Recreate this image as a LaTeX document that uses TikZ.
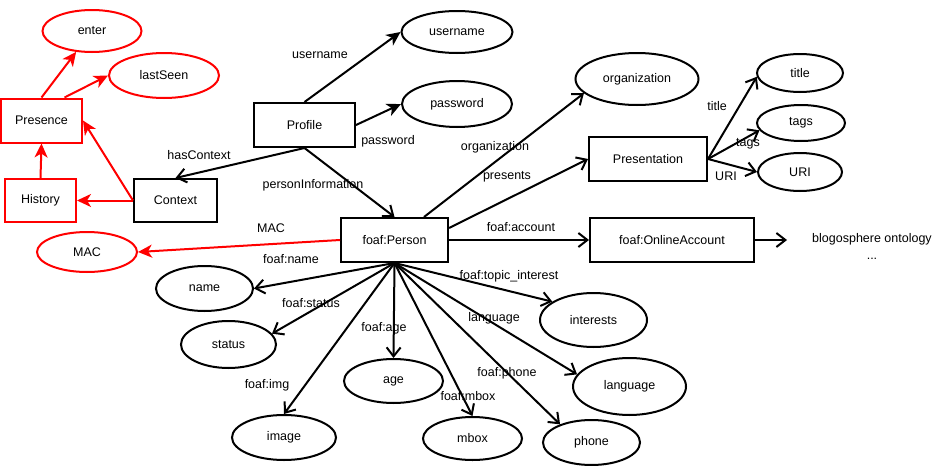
\documentclass[tikz,border=0pt]{standalone}
\usepackage{fontspec}
\setmainfont{Liberation Sans}
\usetikzlibrary{shapes.geometric, arrows.meta}

\begin{document}
\begin{tikzpicture}[
    x=1pt, y=-1pt,
    font=\fontsize{12.5}{15}\selectfont,
    entity/.style={
        rectangle, draw=black, fill=white, line width=2pt,
        minimum height=44pt, inner sep=0pt
    },
    redentity/.style={entity, draw=red},
    attr/.style={
        ellipse, draw=black, fill=white, line width=2pt,
        inner sep=0pt
    },
    redattr/.style={attr, draw=red},
    arrow/.style={line width=2pt, -{Straight Barb[length=9pt, width=14pt]}},
    solidarrow/.style={line width=2pt, -{Stealth[length=14pt, width=13pt, inset=4pt]}},
    redarrow/.style={solidarrow, color=red},
    edgelabel/.style={inner sep=0pt}
]
    \useasboundingbox (0,0) rectangle (935,466);
    % Nodes
    \node (profile) [entity, minimum width=101pt] at (304.5,125) {Profile};
    \node (person) [entity, minimum width=107pt] at (394.5,240) {foaf:Person};
    \node (context) [entity, minimum width=83pt, minimum height=43pt] at (175.5,200.5) {Context};
    \node (presentation) [entity, minimum width=118pt] at (648,159) {Presentation};
    \node (account) [entity, minimum width=164pt] at (672,240) {foaf:OnlineAccount};
    \node (presence) [redentity, minimum width=81pt] at (41.5,120.5) {Presence};
    \node (history) [redentity, minimum width=71pt, minimum height=43pt] at (40.5,200.5) {History};
    \node (enter) [redattr, minimum width=99pt, minimum height=42pt] at (92,31) {enter};
    \node (lastseen) [redattr, minimum width=110pt, minimum height=45pt] at (164,75.5) {lastSeen};
    \node (mac) [redattr, minimum width=100pt, minimum height=40pt] at (87,252) {MAC};
    \node (username) [attr, minimum width=111pt, minimum height=42pt] at (457,32) {username};
    \node (password) [attr, minimum width=110pt, minimum height=46pt] at (457,104) {password};
    \node (organization) [attr, minimum width=123pt, minimum height=52pt] at (637,79) {organization};
    \node (title) [attr, minimum width=86pt, minimum height=38pt] at (800,73) {title};
    \node (tags) [attr, minimum width=88pt, minimum height=36pt] at (801,123) {tags};
    \node (uri) [attr, minimum width=84pt, minimum height=38pt] at (800,172) {URI};
    \node (blogo) [align=center, inner sep=0pt] at (872,246) {blogosphere ontology\\[2pt]...};
    \node (name) [attr, minimum width=97pt, minimum height=45pt] at (204.5,288.5) {name};
    \node (status) [attr, minimum width=95pt, minimum height=47pt] at (228.5,344.5) {status};
    \node (age) [attr, minimum width=99pt, minimum height=44pt] at (393.5,381) {age};
    \node (image) [attr, minimum width=104pt, minimum height=45pt] at (284,437.5) {image};
    \node (mbox) [attr, minimum width=99pt, minimum height=43pt] at (472.5,438.5) {mbox};
    \node (phone) [attr, minimum width=97pt, minimum height=45pt] at (591.5,442.5) {phone};
    \node (interests) [attr, minimum width=107pt, minimum height=54pt] at (593.5,320) {interests};
    \node (language) [attr, minimum width=113pt, minimum height=57pt] at (629.5,386.5) {language};
    % Connections
    \draw [solidarrow] (profile.north) -- (username.west);
    \draw [solidarrow] (profile.east) -- (password.west);
    \draw [arrow] (profile.south) -- (context.north);
    \draw [arrow] (profile.south) -- (person.north);
    \draw [arrow] ([xshift=-25pt]person.north east) -- (organization.195);
    \draw [arrow] ([yshift=12pt]person.east) -- (presentation.west);
    \draw [arrow] (person.east) -- (account.west);
    \draw [arrow] (account.east) -- ([xshift=-25pt]account.east -| blogo.west);
    \draw [arrow] (presentation.east) -- (title.185);
    \draw [arrow] (presentation.east) -- (tags.190);
    \draw [arrow] (presentation.east) -- (uri.west);
    \draw [arrow] (person.south) -- (name.east);
    \draw [arrow] (person.south) -- (status.14);
    \draw [arrow] (person.south) -- (age.north);
    \draw [arrow] (person.south) -- (image.north);
    \draw [arrow] (person.south) -- (mbox.north);
    \draw [arrow] (person.south) -- (phone.150);
    \draw [arrow] (person.south) -- (language.167);
    \draw [arrow] (person.south) -- (interests.156);
    \draw [redarrow] (presence.north) -- (enter);
    \draw [redarrow] (presence.45) -- (lastseen.west);
    \draw [redarrow] (history.north) -- (presence.south);
    \draw [redarrow] (context.west) -- (presence.east);
    \draw [redarrow] (context.west) -- (history.east);
    \draw [redarrow] (person.west) -- (mac.east);
    % Labels
    \node (lblusername) [edgelabel] at (320,55) {username};
    \node (lblpassword) [edgelabel] at (388,141) {password};
    \node (lblcontext) [edgelabel] at (199,155) {hasContext};
    \node (lblperson) [edgelabel] at (313,185) {personInformation};
    \node (lblmac) [edgelabel] at (271,228) {MAC};
    \node (lblorganization) [edgelabel] at (495,147) {organization};
    \node (lblpresents) [edgelabel] at (507,177) {presents};
    \node (lblaccount) [edgelabel] at (521,227) {foaf:account};
    \node (lbltitle) [edgelabel] at (717,106) {title};
    \node (lbltags) [edgelabel] at (748,144) {tags};
    \node (lbluri) [edgelabel] at (726,176) {URI};
    \node (lblname) [edgelabel] at (291,259) {foaf:name};
    \node (lblinterest) [edgelabel] at (509,276) {foaf:topic\_interest};
    \node (lblstatus) [edgelabel] at (311,303) {foaf:status};
    \node (lbllanguage) [edgelabel] at (494,318) {language};
    \node (lblage) [edgelabel] at (384,328) {foaf:age};
    \node (lblphone) [edgelabel] at (507,373) {foaf:phone};
    \node (lblimg) [edgelabel] at (267,385) {foaf:img};
    \node (lblmbox) [edgelabel] at (468,396) {foaf:mbox};
\end{tikzpicture}
\end{document}
